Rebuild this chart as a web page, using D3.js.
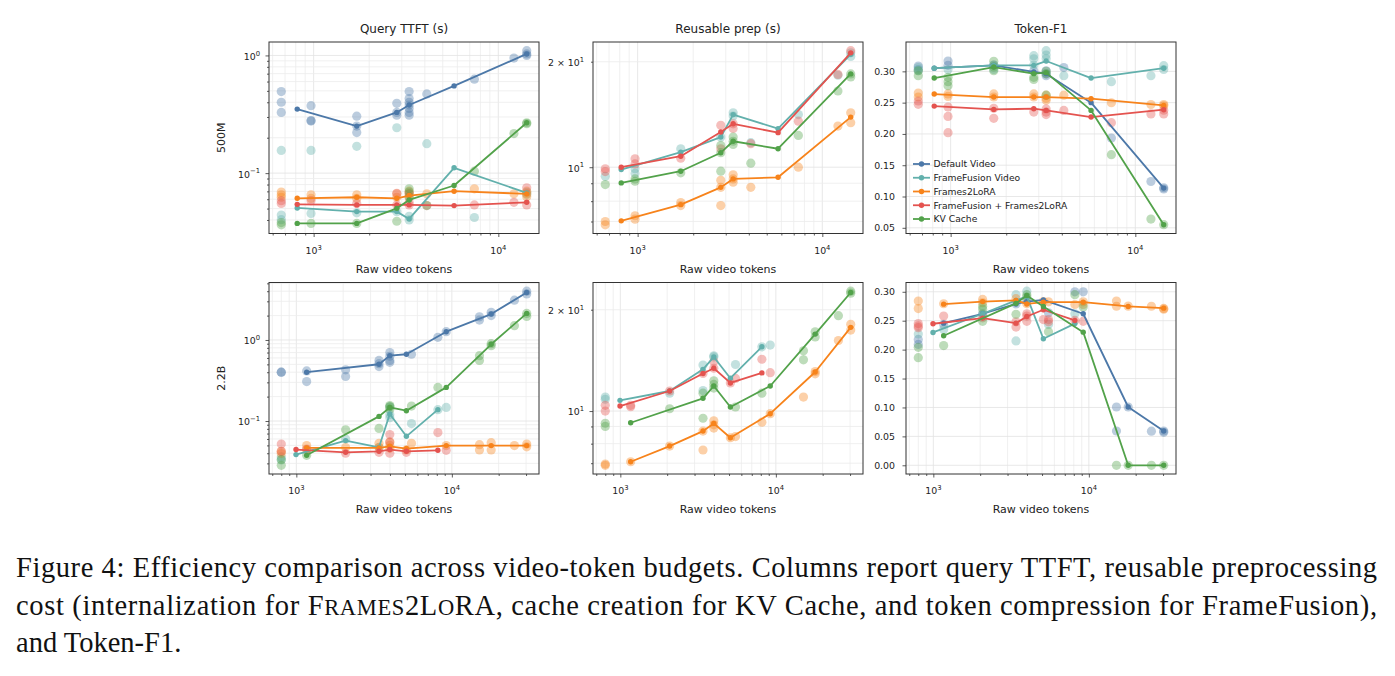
<!DOCTYPE html>
<html>
<head>
<meta charset="utf-8">
<script src="https://cdn.jsdelivr.net/npm/d3@7"></script>
<style>
  body { margin: 0; background: #fff; }
  svg { display: block; }
</style>
</head>
<body>
<svg id="fig" width="1395" height="676"></svg>
<script>
// Methods / legend
const methods = ["Default Video", "FrameFusion Video", "Frames2LoRA", "FrameFusion + Frames2LoRA", "KV Cache"];
const colors = ["#4c78a8", "#62b0ac", "#f7831b", "#e4534f", "#52a24a"];
const colTitles = ["Query TTFT (s)", "Reusable prep (s)", "Token-F1"];
const rowLabels = ["500M", "2.2B"];

// Means drawn as lines: [method, raw video tokens, value]
// Runs drawn as faint dots: [method, raw video tokens, [values]]

// 500M - Query TTFT
const ttft500Means = [
  [0, 815, 0.350], [0, 1712, 0.251], [0, 2820, 0.328], [0, 3290, 0.379], [0, 5760, 0.551], [0, 14250, 1.03],
  [1, 815, 0.0506], [1, 1712, 0.0471], [1, 2820, 0.0471], [1, 3290, 0.0408], [1, 5760, 0.111], [1, 14250, 0.0679],
  [2, 815, 0.0611], [2, 1712, 0.0624], [2, 2820, 0.0611], [2, 3290, 0.0645], [2, 5760, 0.0702], [2, 14250, 0.0667],
  [3, 815, 0.0543], [3, 1712, 0.0537], [3, 2820, 0.0537], [3, 3290, 0.0537], [3, 5760, 0.053], [3, 14250, 0.0565],
  [4, 815, 0.0374], [4, 1712, 0.0374], [4, 2820, 0.0502], [4, 3290, 0.0592], [4, 5760, 0.0785], [4, 14250, 0.268]
];
const ttft500Runs = [
  [0, 668, [0.493, 0.40, 0.328]], [0, 968, [0.374, 0.28, 0.277]], [0, 1712, [0.305, 0.251, 0.221]], [0, 2820, [0.392, 0.328, 0.311]],
  [0, 3290, [0.493, 0.43, 0.40, 0.379, 0.355, 0.328, 0.311]], [0, 4100, [0.471]], [0, 7420, [0.628]], [0, 12150, [0.95]], [0, 14250, [1.097, 1.03, 1.0]],
  [1, 668, [0.156, 0.044, 0.0402]], [1, 968, [0.156, 0.0455]], [1, 1712, [0.169, 0.046]], [1, 2820, [0.243, 0.047]], [1, 3290, [0.043, 0.040]],
  [1, 4100, [0.178]], [1, 7420, [0.042]], [1, 14250, [0.0688, 0.066]],
  [2, 668, [0.069, 0.0655, 0.0624]], [2, 968, [0.0655, 0.061]], [2, 1712, [0.0655, 0.061]], [2, 2820, [0.0667, 0.0624]], [2, 3290, [0.0702, 0.0667, 0.063]],
  [2, 4100, [0.0667]], [2, 7420, [0.0736]], [2, 12150, [0.0667]], [2, 14250, [0.0702, 0.0667, 0.063]],
  [3, 668, [0.0583, 0.0553]], [3, 968, [0.0583]], [3, 1712, [0.0553]], [3, 2820, [0.0675, 0.0537]], [3, 3290, [0.0667, 0.0565, 0.0537]],
  [3, 4100, [0.053]], [3, 7420, [0.0537]], [3, 12150, [0.0565]], [3, 14250, [0.075, 0.0537]],
  [4, 668, [0.038, 0.0364]], [4, 968, [0.0374]], [4, 1712, [0.0374]], [4, 2820, [0.039]], [4, 3290, [0.0736, 0.069, 0.0625]],
  [4, 4100, [0.053]], [4, 7420, [0.104]], [4, 12150, [0.217]], [4, 14250, [0.268, 0.263]]
];

// 500M - Reusable prep
const prep500Means = [
  [1, 815, 9.85], [1, 1712, 11.04], [1, 2820, 12.19], [1, 3290, 14.13], [1, 5760, 12.88], [1, 14250, 21.0],
  [2, 815, 7.03], [2, 1712, 7.82], [2, 2820, 8.76], [2, 3290, 9.26], [2, 5760, 9.36], [2, 14250, 13.9],
  [3, 815, 10.0], [3, 1712, 10.75], [3, 2820, 12.6], [3, 3290, 13.3], [3, 5760, 12.55], [3, 14250, 21.2],
  [4, 815, 9.02], [4, 1712, 9.74], [4, 2820, 11.0], [4, 3290, 11.86], [4, 5760, 11.29], [4, 14250, 18.46]
];
const prep500Runs = [
  [1, 668, [9.42]], [1, 968, [9.9, 9.6]], [1, 1712, [11.29]], [1, 2820, [12.19]], [1, 3290, [14.3, 14.0]], [1, 4100, [11.75]],
  [1, 7420, [14.13]], [1, 12150, [18.3]], [1, 14250, [21.2, 20.7]],
  [2, 668, [7.0, 6.85]], [2, 968, [7.27, 7.11]], [2, 1712, [7.93, 7.77]], [2, 2820, [9.18, 8.76, 7.77]], [2, 3290, [9.51, 9.26, 9.06]],
  [2, 4100, [8.76]], [2, 7420, [10.0]], [2, 12150, [13.1]], [2, 14250, [14.3, 13.4]],
  [3, 668, [9.9, 9.72]], [3, 968, [10.57, 10.22]], [3, 1712, [10.61]], [3, 2820, [13.17, 11.29]], [3, 3290, [13.3, 12.9]],
  [3, 4100, [11.67]], [3, 7420, [13.53]], [3, 12150, [18.4]], [3, 14250, [21.5]],
  [4, 668, [8.92]], [4, 968, [9.26, 9.12]], [4, 1712, [9.64]], [4, 2820, [11.54, 11.0, 9.74]], [4, 3290, [12.19, 11.86, 11.61]],
  [4, 4100, [10.27]], [4, 7420, [12.32]], [4, 12150, [16.5]], [4, 14250, [18.46, 18.1]]
];

// 500M - Token-F1
const f1500Means = [
  [0, 815, 0.305], [0, 1712, 0.3096], [0, 2820, 0.299], [0, 3290, 0.2963], [0, 5760, 0.25], [0, 14250, 0.1134],
  [1, 815, 0.305], [1, 1712, 0.3096], [1, 2820, 0.3096], [1, 3290, 0.3165], [1, 5760, 0.2893], [1, 14250, 0.305],
  [2, 815, 0.2637], [2, 1712, 0.2589], [2, 2820, 0.2589], [2, 3290, 0.2589], [2, 5760, 0.2563], [2, 14250, 0.2456],
  [3, 815, 0.2445], [3, 1712, 0.2392], [3, 2820, 0.2403], [3, 3290, 0.2376], [3, 5760, 0.227], [3, 14250, 0.2387],
  [4, 815, 0.2893], [4, 1712, 0.3069], [4, 2820, 0.2963], [4, 3290, 0.2979], [4, 5760, 0.2376], [4, 14250, 0.0548]
];
const f1500Runs = [
  [0, 668, [0.3085, 0.303]], [0, 968, [0.3165, 0.3096]], [0, 1712, [0.31]], [0, 2820, [0.301]], [0, 3290, [0.301, 0.296, 0.293]],
  [0, 4100, [0.306]], [0, 7420, [0.1934]], [0, 12150, [0.124]], [0, 14250, [0.114, 0.112]],
  [1, 668, [0.306, 0.301]], [1, 968, [0.303]], [1, 1712, [0.31, 0.303]], [1, 2820, [0.325, 0.32, 0.31]], [1, 3290, [0.333, 0.326, 0.32]],
  [1, 4100, [0.293]], [1, 7420, [0.2835]], [1, 12150, [0.293]], [1, 14250, [0.309, 0.303]],
  [2, 668, [0.2653, 0.259]], [2, 968, [0.264, 0.26]], [2, 1712, [0.264, 0.259]], [2, 2820, [0.264, 0.259]], [2, 3290, [0.262, 0.257, 0.254]],
  [2, 4100, [0.262]], [2, 7420, [0.2498]], [2, 12150, [0.247]], [2, 14250, [0.247, 0.245]],
  [3, 668, [0.2526, 0.2473]], [3, 968, [0.243, 0.228, 0.202]], [3, 1712, [0.241, 0.225]], [3, 2820, [0.235]], [3, 3290, [0.24, 0.235, 0.231]],
  [3, 4100, [0.2376]], [3, 7420, [0.218]], [3, 12150, [0.232]], [3, 14250, [0.238, 0.232]],
  [4, 668, [0.301, 0.293]], [4, 968, [0.2905, 0.2835, 0.277]], [4, 1712, [0.316, 0.307, 0.301]], [4, 2820, [0.2905, 0.287]],
  [4, 3290, [0.30, 0.296, 0.262]], [4, 7420, [0.1668]], [4, 12150, [0.064]], [4, 14250, [0.055]]
];

// 2.2B - Query TTFT
const ttft22Means = [
  [0, 1165, 0.40], [0, 3400, 0.502], [0, 3990, 0.641], [0, 5100, 0.667], [0, 9200, 1.265], [0, 17900, 2.09], [0, 30300, 3.86],
  [1, 995, 0.0385], [1, 2075, 0.0573], [1, 3400, 0.0474], [1, 3990, 0.122], [1, 5100, 0.0647], [1, 8130, 0.138],
  [2, 1165, 0.0466], [2, 3400, 0.0466], [2, 3990, 0.0487], [2, 5100, 0.0457], [2, 9200, 0.0497], [2, 17900, 0.0497], [2, 30300, 0.0497],
  [3, 995, 0.0444], [3, 2075, 0.0411], [3, 3400, 0.0423], [3, 3990, 0.0444], [3, 5100, 0.0423], [3, 8130, 0.0435],
  [4, 1165, 0.0377], [4, 3400, 0.114], [4, 3990, 0.147], [4, 5100, 0.134], [4, 9200, 0.26], [4, 17900, 0.885], [4, 30300, 2.13]
];
const ttft22Runs = [
  [0, 800, [0.40, 0.40]], [0, 1165, [0.415, 0.307]], [0, 2075, [0.428, 0.354]], [0, 3400, [0.56, 0.51, 0.47]], [0, 3990, [0.70, 0.63, 0.56, 0.53]],
  [0, 5500, [0.667]], [0, 8130, [1.08]], [0, 9200, [1.265]], [0, 15050, [1.93, 1.76]], [0, 17900, [2.2, 2.0]], [0, 25250, [3.1]], [0, 30300, [4.0, 3.7]],
  [1, 800, [0.036, 0.033]], [1, 2075, [0.06]], [1, 3400, [0.0474]], [1, 3990, [0.15, 0.12, 0.11]], [1, 5500, [0.093]], [1, 8130, [0.138]], [1, 9200, [0.147]],
  [2, 800, [0.0423, 0.0397]], [2, 1165, [0.0497, 0.0443]], [2, 2075, [0.047]], [2, 3400, [0.053, 0.047]], [2, 3990, [0.055, 0.05, 0.046]],
  [2, 5100, [0.044]], [2, 5500, [0.053]], [2, 9200, [0.0497]], [2, 15050, [0.051, 0.044]], [2, 17900, [0.054, 0.044]], [2, 25250, [0.0497]], [2, 30300, [0.052, 0.048]],
  [3, 800, [0.052, 0.042]], [3, 1165, [0.045]], [3, 2075, [0.040]], [3, 3400, [0.0411]], [3, 3990, [0.068, 0.055, 0.040]],
  [3, 5100, [0.0411]], [3, 8130, [0.072]], [3, 9200, [0.0435]],
  [4, 800, [0.0335, 0.0284]], [4, 1165, [0.0377]], [4, 2075, [0.078]], [4, 3400, [0.081]], [4, 3990, [0.155, 0.15, 0.14]],
  [4, 5500, [0.153]], [4, 8130, [0.26]], [4, 15050, [0.64, 0.56]], [4, 17900, [0.9, 0.85]], [4, 25250, [1.5]], [4, 30300, [2.13, 1.95]]
];

// 2.2B - Reusable prep
const prep22Means = [
  [1, 995, 10.76], [1, 2075, 11.47], [1, 3400, 13.3], [1, 3990, 14.48], [1, 5100, 12.52], [1, 8130, 15.52],
  [2, 1165, 7.07], [2, 2075, 7.87], [2, 3400, 8.72], [2, 3990, 9.19], [2, 5100, 8.33], [2, 9200, 9.82], [2, 17900, 13.06], [2, 30300, 17.73],
  [3, 995, 10.35], [3, 2075, 11.47], [3, 3400, 12.93], [3, 3990, 13.4], [3, 5100, 12.12], [3, 8130, 12.98],
  [4, 1165, 9.23], [4, 3400, 10.91], [4, 3990, 11.87], [4, 5100, 10.28], [4, 9200, 11.87], [4, 17900, 16.93], [4, 30300, 22.5]
];
const prep22Runs = [
  [1, 800, [11.0, 10.84]], [1, 2075, [11.3]], [1, 3400, [13.7, 11.5]], [1, 3990, [14.6, 14.48]], [1, 5500, [13.75]], [1, 8130, [15.52]], [1, 9200, [15.7]],
  [2, 800, [6.96, 6.9]], [2, 1165, [7.07]], [2, 2075, [7.87]], [2, 3400, [8.72, 7.66]], [2, 3990, [9.35, 9.1, 8.9]], [2, 5100, [8.33]],
  [2, 5500, [8.4]], [2, 8130, [9.27]], [2, 9200, [9.82]], [2, 15050, [11.0]], [2, 17900, [13.1, 12.9]], [2, 25250, [16.2]], [2, 30300, [18.1, 17.4]],
  [3, 800, [10.4, 10.0]], [3, 1165, [10.4, 10.3]], [3, 2075, [11.47]], [3, 3400, [12.93]], [3, 3990, [14.0, 13.4]], [3, 5100, [12.12]],
  [3, 5500, [12.5]], [3, 8130, [14.25]], [3, 9200, [13.0]],
  [4, 800, [9.2, 9.0]], [4, 2075, [10.16]], [4, 3400, [11.3, 9.52]], [4, 3990, [12.3, 12.0, 11.7]], [4, 5500, [10.28]], [4, 8130, [11.3]],
  [4, 15050, [15.1, 14.2]], [4, 17900, [17.2, 16.6]], [4, 25250, [19.2]], [4, 30300, [22.7, 22.4]]
];

// 2.2B - Token-F1
const f122Means = [
  [0, 1165, 0.2458], [0, 2075, 0.262], [0, 3400, 0.279], [0, 3990, 0.283], [0, 5100, 0.286], [0, 9200, 0.262], [0, 17900, 0.1008], [0, 30300, 0.0593],
  [1, 995, 0.2297], [1, 2075, 0.262], [1, 3400, 0.285], [1, 3990, 0.292], [1, 5100, 0.2188], [1, 8130, 0.245],
  [2, 1165, 0.2786], [2, 2075, 0.283], [2, 3400, 0.285], [2, 3990, 0.279], [2, 5100, 0.282], [2, 9200, 0.282], [2, 17900, 0.2746], [2, 30300, 0.2717],
  [3, 995, 0.2447], [3, 2075, 0.2545], [3, 3400, 0.2458], [3, 3990, 0.2573], [3, 5100, 0.2689], [3, 8130, 0.2504],
  [4, 1165, 0.224], [4, 3400, 0.28], [4, 3990, 0.2936], [4, 5100, 0.2746], [4, 9200, 0.2302], [4, 17900, 0], [4, 30300, 0]
];
const f122Runs = [
  [0, 800, [0.2177, 0.209]], [0, 1165, [0.2436]], [0, 2075, [0.262]], [0, 3400, [0.279]], [0, 3990, [0.285]], [0, 5500, [0.2637]],
  [0, 8130, [0.30]], [0, 9200, [0.30]], [0, 15050, [0.1008, 0.0593]], [0, 17900, [0.1008]], [0, 25250, [0.059]], [0, 30300, [0.0593, 0.057]],
  [1, 800, [0.227]], [1, 1165, [0.235]], [1, 2075, [0.261]], [1, 3400, [0.295, 0.215]], [1, 3990, [0.301]], [1, 5500, [0.2436]], [1, 8130, [0.262]],
  [2, 800, [0.284, 0.271]], [2, 1165, [0.2793]], [2, 2075, [0.2868, 0.281]], [2, 3400, [0.288]], [2, 3990, [0.2793]], [2, 5100, [0.283]],
  [2, 5500, [0.2827]], [2, 8130, [0.278]], [2, 9200, [0.2827, 0.278]], [2, 15050, [0.284, 0.275]], [2, 17900, [0.2752]], [2, 25250, [0.275]], [2, 30300, [0.2712, 0.27]],
  [3, 800, [0.245, 0.241, 0.238]], [3, 1165, [0.258]], [3, 2075, [0.255]], [3, 3400, [0.248, 0.239]], [3, 3990, [0.262, 0.258, 0.249]],
  [3, 5100, [0.252]], [3, 5500, [0.252, 0.248]], [3, 8130, [0.2505]], [3, 9200, [0.249]],
  [4, 800, [0.204, 0.186]], [4, 1165, [0.207]], [4, 2075, [0.275, 0.27, 0.249]], [4, 3400, [0.261]], [4, 3990, [0.295, 0.291]],
  [4, 5500, [0.231]], [4, 8130, [0.295]], [4, 9200, [0.2735]], [4, 15050, [0]], [4, 17900, [0]], [4, 25250, [0]], [4, 30300, [0]]
];

// Layout
const colLeft = [269, 593, 906];
const rowTop = [42, 282.5];
const panelW = 270;
const panelH = 191.5;
const font = "DejaVu Sans";

const panels = [
  { means: ttft500Means, runs: ttft500Runs, yType: "log", labelMant: [1], col: 0, row: 0 },
  { means: prep500Means, runs: prep500Runs, yType: "log", labelMant: [1, 2], col: 1, row: 0 },
  { means: f1500Means, runs: f1500Runs, yType: "linear", col: 2, row: 0 },
  { means: ttft22Means, runs: ttft22Runs, yType: "log", labelMant: [1], col: 0, row: 1 },
  { means: prep22Means, runs: prep22Runs, yType: "log", labelMant: [1, 2], col: 1, row: 1 },
  { means: f122Means, runs: f122Runs, yType: "linear", col: 2, row: 1 }
];

const svg = d3.select("#fig");
svg.append("rect").attr("width", 1395).attr("height", 676).attr("fill", "#fff");

// matplotlib-like 5% margins
function padLog([a, b]) {
  const la = Math.log10(a), lb = Math.log10(b), d = (lb - la) * 0.05;
  return [10 ** (la - d), 10 ** (lb + d)];
}
function padLin([a, b]) {
  const d = (b - a) * 0.05;
  return [a - d, b + d];
}

function logTicks(domain) {
  const out = [];
  const e0 = Math.floor(Math.log10(domain[0]));
  const e1 = Math.ceil(Math.log10(domain[1]));
  for (let e = e0; e <= e1; e++) {
    for (let m = 1; m < 10; m++) {
      const v = m * Math.pow(10, e);
      if (v >= domain[0] && v <= domain[1]) out.push({ v, m, e });
    }
  }
  return out;
}

function expText(e) {
  return e < 0 ? "\u2212" + (-e) : String(e);
}

function drawPanel(p) {
  const left = colLeft[p.col], top = rowTop[p.row];
  const g = svg.append("g").attr("transform", `translate(${left},${top})`);

  const runs = p.runs.flatMap(([m, x, vs]) => vs.map(v => ({ m, x, v })));
  const means = p.means.map(([m, x, v]) => ({ m, x, v }));
  const all = runs.concat(means);

  const x = d3.scaleLog().domain(padLog(d3.extent(all, d => d.x))).range([0, panelW]);
  const y = p.yType === "log"
    ? d3.scaleLog().domain(padLog(d3.extent(all, d => d.v))).range([panelH, 0])
    : d3.scaleLinear().domain(padLin(d3.extent(all, d => d.v))).range([panelH, 0]);

  const xt = logTicks(x.domain());
  const yt = p.yType === "log"
    ? logTicks(y.domain())
    : y.ticks(6).map(v => ({ v, m: 1 }));

  // grid
  g.append("g").selectAll("line.gx")
    .data(xt)
    .join("line")
    .attr("x1", d => x(d.v)).attr("x2", d => x(d.v))
    .attr("y1", 0).attr("y2", panelH)
    .attr("stroke", d => d.m === 1 ? "#e2e2e2" : "#ececec")
    .attr("stroke-width", 0.8);
  g.append("g").selectAll("line.gy")
    .data(yt)
    .join("line")
    .attr("x1", 0).attr("x2", panelW)
    .attr("y1", d => y(d.v)).attr("y2", d => y(d.v))
    .attr("stroke", d => d.m === 1 ? "#e2e2e2" : "#ececec")
    .attr("stroke-width", 0.8);

  // faint per-run dots
  g.append("g").selectAll("circle")
    .data(runs)
    .join("circle")
    .attr("cx", d => x(d.x))
    .attr("cy", d => y(d.v))
    .attr("r", 4.6)
    .attr("fill", d => colors[d.m])
    .attr("fill-opacity", 0.38);

  // mean lines
  const line = d3.line().x(d => x(d.x)).y(d => y(d.v));
  const bySeries = d3.groups(means, d => d.m).sort((a, b) => a[0] - b[0]);
  const sg = g.append("g").selectAll("g")
    .data(bySeries)
    .join("g");
  sg.append("path")
    .attr("d", d => line(d[1]))
    .attr("fill", "none")
    .attr("stroke", d => colors[d[0]])
    .attr("stroke-width", 1.8)
    .attr("stroke-linejoin", "round");
  sg.selectAll("circle")
    .data(d => d[1])
    .join("circle")
    .attr("cx", d => x(d.x))
    .attr("cy", d => y(d.v))
    .attr("r", 2.7)
    .attr("fill", d => colors[d.m]);

  // frame
  g.append("rect")
    .attr("width", panelW).attr("height", panelH)
    .attr("fill", "none").attr("stroke", "#333").attr("stroke-width", 1);

  // ticks via d3 axes
  const majorX = xt.filter(d => d.m === 1).map(d => d.v);
  const minorX = xt.filter(d => d.m !== 1).map(d => d.v);
  const axX1 = g.append("g").attr("transform", `translate(0,${panelH})`)
    .call(d3.axisBottom(x).tickValues(majorX).tickSize(3.5).tickFormat(""));
  const axX2 = g.append("g").attr("transform", `translate(0,${panelH})`)
    .call(d3.axisBottom(x).tickValues(minorX).tickSize(2).tickFormat(""));
  let axY1, axY2;
  if (p.yType === "log") {
    axY1 = g.append("g").call(d3.axisLeft(y).tickValues(yt.filter(d => d.m === 1).map(d => d.v)).tickSize(3.5).tickFormat(""));
    axY2 = g.append("g").call(d3.axisLeft(y).tickValues(yt.filter(d => d.m !== 1).map(d => d.v)).tickSize(2).tickFormat(""));
  } else {
    axY1 = g.append("g").call(d3.axisLeft(y).tickValues(yt.map(d => d.v)).tickSize(3.5).tickFormat(""));
  }
  [axX1, axX2, axY1, axY2].forEach(a => {
    if (!a) return;
    a.select(".domain").remove();
    a.selectAll("line").attr("stroke", "#333").attr("stroke-width", 0.8);
  });

  // x tick labels (10^k)
  xt.filter(d => d.m === 1).forEach(d => {
    const t = g.append("text")
      .attr("x", x(d.v)).attr("y", panelH + 20.3)
      .attr("text-anchor", "middle")
      .attr("font-family", font).attr("font-size", 9.4).attr("fill", "#222");
    t.append("tspan").text("10");
    t.append("tspan").attr("dy", -4.3).attr("font-size", 6.8).text(expText(d.e));
  });

  // y tick labels
  if (p.yType === "log") {
    yt.filter(d => p.labelMant.includes(d.m)).forEach(d => {
      const t = g.append("text")
        .attr("x", -9).attr("y", y(d.v) + 4.4)
        .attr("text-anchor", "end")
        .attr("font-family", font).attr("font-size", 9.4).attr("fill", "#222");
      t.append("tspan").text(d.m === 1 ? "10" : `${d.m} \u00d7 10`);
      t.append("tspan").attr("dy", -4.3).attr("font-size", 6.8).text(expText(d.e));
    });
  } else {
    g.append("g").selectAll("text")
      .data(yt)
      .join("text")
      .attr("x", -11).attr("y", d => y(d.v) + 3.4)
      .attr("text-anchor", "end")
      .attr("font-family", font).attr("font-size", 9.4).attr("fill", "#222")
      .text(d => d3.format(".2f")(d.v));
  }

  // axis label + title + row label
  g.append("text")
    .attr("x", panelW / 2).attr("y", panelH + 39)
    .attr("text-anchor", "middle")
    .attr("font-family", font).attr("font-size", 11).attr("fill", "#222")
    .text("Raw video tokens");
  if (p.row === 0) {
    g.append("text")
      .attr("x", panelW / 2).attr("y", -9)
      .attr("text-anchor", "middle")
      .attr("font-family", font).attr("font-size", 12).attr("fill", "#222")
      .text(colTitles[p.col]);
  }
  if (p.col === 0) {
    g.append("text")
      .attr("transform", `translate(-44,${panelH / 2}) rotate(-90)`)
      .attr("text-anchor", "middle")
      .attr("font-family", font).attr("font-size", 11).attr("fill", "#222")
      .text(rowLabels[p.row]);
  }

  // legend inside the top Token-F1 panel
  if (p.row === 0 && p.col === 2) {
    const lg = g.append("g").attr("transform", "translate(7,122)");
    const items = lg.selectAll("g")
      .data(methods)
      .join("g")
      .attr("transform", (d, i) => `translate(0,${i * 13.75})`);
    items.append("line")
      .attr("x1", 0).attr("x2", 17).attr("y1", 0).attr("y2", 0)
      .attr("stroke", (d, i) => colors[i]).attr("stroke-width", 1.8);
    items.append("circle")
      .attr("cx", 8.5).attr("cy", 0).attr("r", 2.7)
      .attr("fill", (d, i) => colors[i]);
    items.append("text")
      .attr("x", 20.5).attr("y", 3.3)
      .attr("font-family", font).attr("font-size", 9.2).attr("fill", "#222")
      .text(d => d);
  }
}

panels.forEach(drawPanel);

// Caption
const cap = svg.append("g")
  .attr("font-family", "Liberation Serif, Times New Roman, serif")
  .attr("font-size", 28.5)
  .attr("fill", "#111");

cap.append("text")
  .attr("x", 16).attr("y", 577)
  .attr("textLength", 1361).attr("lengthAdjust", "spacing")
  .text("Figure 4: Efficiency comparison across video-token budgets. Columns report query TTFT, reusable preprocessing");

const l2 = cap.append("text")
  .attr("x", 16).attr("y", 614.5)
  .attr("textLength", 1361).attr("lengthAdjust", "spacing");
l2.append("tspan").text("cost (internalization for F");
l2.append("tspan").attr("font-size", 22.5).text("RAMES");
l2.append("tspan").text("2L");
l2.append("tspan").attr("font-size", 22.5).text("O");
l2.append("tspan").text("RA, cache creation for KV Cache, and token compression for FrameFusion),");

cap.append("text")
  .attr("x", 16).attr("y", 652)
  .text("and Token-F1.");
</script>
</body>
</html>
